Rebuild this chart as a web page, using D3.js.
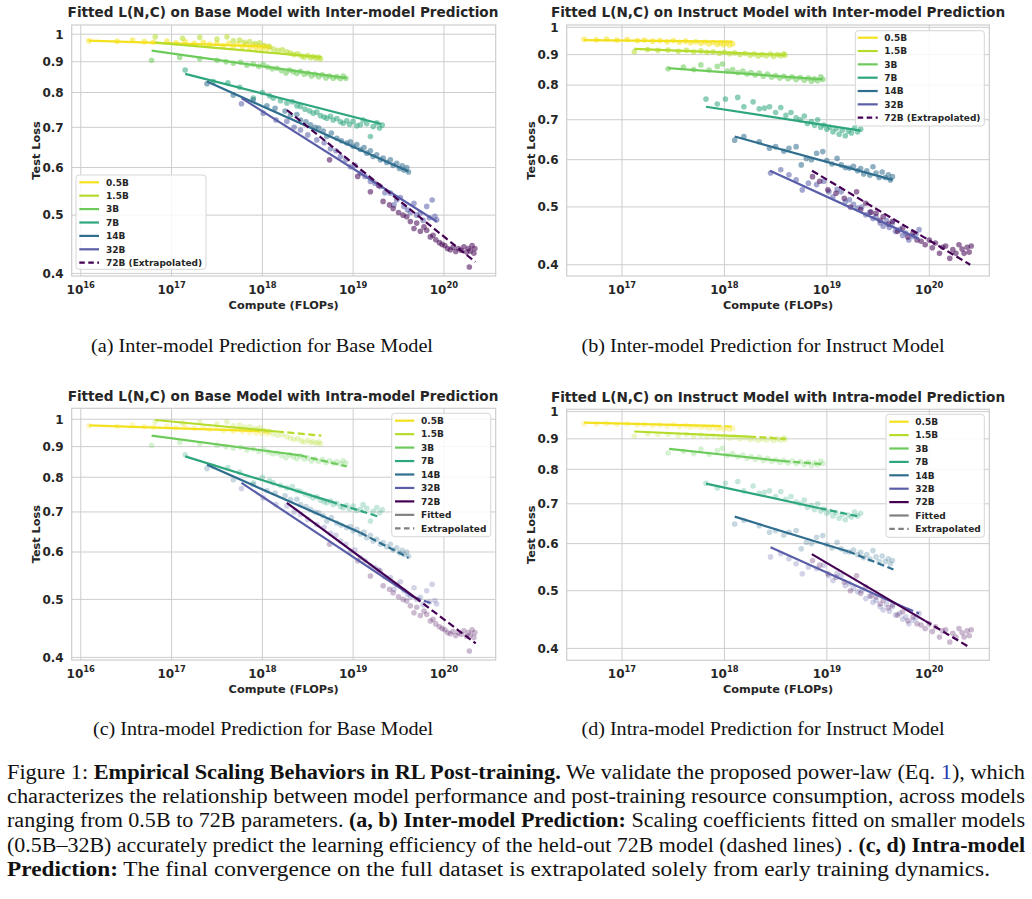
<!DOCTYPE html>
<html>
<head>
<meta charset="utf-8">
<script src="https://cdn.jsdelivr.net/npm/d3@7"></script>
<style>
  html, body { margin: 0; padding: 0; background: #fff; }
  svg { display: block; }
</style>
</head>
<body>
<svg id="fig" width="1032" height="899"></svg>
<script>
// model sizes and their viridis-like colours
const MODELS = ['0.5B', '1.5B', '3B', '7B', '14B', '32B', '72B'];
const COLORS = ['#f4e11e', '#b5dc2c', '#6dcb5b', '#2ea67c', '#2f6e8e', '#5a5ea8', '#440154'];

const Y_TICKS = [0.4, 0.5, 0.6, 0.7, 0.8, 0.9, 1];
const X_TICKS_BASE = [16, 17, 18, 19, 20];      // log10 FLOPs
const X_TICKS_INSTRUCT = [17, 18, 19, 20];

// observed test loss, [log10 compute, loss], base model (panels a, c)
const BASE_POINTS = [
  [[16.09,0.975],[16.4,0.973],[16.57,0.978],[16.7,0.972],[16.8,0.97],[16.95,0.974],[17.05,0.968],[17.15,0.972],[17.25,0.966],[17.35,0.97],[17.42,0.962],[17.5,0.967],[17.57,0.958],[17.63,0.966],[17.68,0.955],[17.73,0.964],[17.78,0.953],[17.82,0.962],[17.86,0.95],[17.9,0.96],[17.93,0.948],[17.96,0.958],[17.99,0.947],[18.02,0.956],[18.05,0.946],[18.08,0.952]],
  [[16.82,0.99],[17.12,0.985],[17.31,0.988],[17.5,0.982],[17.61,0.99],[17.68,0.975],[17.75,0.978],[17.8,0.97],[17.86,0.972],[17.92,0.965],[17.97,0.968],[18.02,0.958],[18.07,0.955],[18.12,0.945],[18.17,0.94],[18.22,0.942],[18.27,0.935],[18.31,0.93],[18.35,0.925],[18.39,0.928],[18.43,0.92],[18.46,0.916],[18.5,0.922],[18.53,0.914],[18.56,0.918],[18.59,0.912],[18.62,0.916],[18.64,0.91]],
  [[16.78,0.905],[17.09,0.915],[17.31,0.91],[17.5,0.905],[17.6,0.9],[17.68,0.895],[17.76,0.898],[17.83,0.888],[17.9,0.892],[17.96,0.884],[18.01,0.89],[18.06,0.882],[18.11,0.876],[18.16,0.878],[18.21,0.87],[18.26,0.862],[18.3,0.872],[18.34,0.866],[18.38,0.86],[18.42,0.868],[18.46,0.858],[18.5,0.862],[18.54,0.852],[18.58,0.858],[18.62,0.85],[18.66,0.856],[18.7,0.846],[18.74,0.852],[18.78,0.845],[18.82,0.85],[18.86,0.843],[18.89,0.852],[18.92,0.845]],
  [[17.15,0.872],[17.46,0.834],[17.62,0.83],[17.75,0.816],[17.9,0.783],[18.0,0.8],[18.08,0.79],[18.12,0.783],[18.2,0.775],[18.27,0.768],[18.33,0.772],[18.38,0.76],[18.42,0.758],[18.47,0.75],[18.52,0.745],[18.56,0.739],[18.6,0.742],[18.64,0.732],[18.68,0.728],[18.71,0.725],[18.75,0.73],[18.78,0.72],[18.82,0.724],[18.86,0.715],[18.89,0.711],[18.93,0.718],[18.96,0.708],[19.0,0.716],[19.04,0.704],[19.08,0.707],[19.11,0.72],[19.15,0.71],[19.19,0.676],[19.22,0.702],[19.26,0.712],[19.29,0.698],[19.32,0.706]],
  [[17.39,0.827],[17.68,0.792],[17.9,0.778],[18.05,0.76],[18.14,0.753],[18.25,0.745],[18.31,0.734],[18.38,0.735],[18.42,0.72],[18.48,0.715],[18.53,0.707],[18.58,0.7],[18.62,0.698],[18.67,0.69],[18.71,0.676],[18.76,0.685],[18.82,0.671],[18.87,0.665],[18.93,0.659],[18.97,0.662],[19.0,0.651],[19.04,0.655],[19.08,0.643],[19.12,0.648],[19.15,0.634],[19.19,0.64],[19.22,0.626],[19.26,0.63],[19.3,0.618],[19.33,0.622],[19.37,0.612],[19.41,0.618],[19.44,0.605],[19.48,0.61],[19.51,0.598],[19.54,0.604],[19.56,0.594],[19.59,0.6],[19.61,0.59]],
  [[17.77,0.766],[18.01,0.739],[18.15,0.72],[18.27,0.716],[18.35,0.7],[18.42,0.693],[18.5,0.68],[18.6,0.667],[18.68,0.66],[18.75,0.645],[18.81,0.64],[18.86,0.626],[18.92,0.618],[18.97,0.602],[19.02,0.605],[19.08,0.587],[19.13,0.58],[19.19,0.569],[19.24,0.565],[19.3,0.558],[19.35,0.545],[19.41,0.544],[19.45,0.52],[19.48,0.53],[19.52,0.535],[19.56,0.517],[19.6,0.51],[19.63,0.505],[19.67,0.523],[19.7,0.5],[19.74,0.504],[19.77,0.49],[19.81,0.517],[19.84,0.495],[19.87,0.53],[19.9,0.498],[19.92,0.491]],
  [[18.74,0.618],[19.05,0.58],[19.19,0.547],[19.28,0.56],[19.33,0.527],[19.4,0.52],[19.44,0.513],[19.5,0.505],[19.55,0.5],[19.59,0.497],[19.63,0.488],[19.67,0.475],[19.7,0.485],[19.74,0.47],[19.78,0.478],[19.81,0.472],[19.85,0.46],[19.88,0.463],[19.91,0.455],[19.95,0.45],[19.98,0.447],[20.01,0.445],[20.04,0.44],[20.07,0.438],[20.1,0.442],[20.13,0.435],[20.16,0.44],[20.19,0.437],[20.22,0.443],[20.25,0.434],[20.27,0.44],[20.29,0.436],[20.31,0.445],[20.33,0.432],[20.34,0.44],[20.28,0.41]]
];

// observed test loss, instruct model (panels b, d)
const INSTRUCT_POINTS = [
  [[16.63,0.955],[16.75,0.953],[16.85,0.956],[16.95,0.952],[17.05,0.954],[17.15,0.95],[17.22,0.952],[17.3,0.948],[17.37,0.95],[17.44,0.946],[17.5,0.95],[17.56,0.944],[17.62,0.948],[17.67,0.942],[17.72,0.946],[17.77,0.94],[17.81,0.944],[17.85,0.938],[17.89,0.943],[17.93,0.936],[17.96,0.941],[17.99,0.935],[18.02,0.94],[18.05,0.934],[18.08,0.938]],
  [[17.12,0.91],[17.25,0.918],[17.35,0.915],[17.45,0.916],[17.55,0.912],[17.63,0.915],[17.7,0.91],[17.77,0.913],[17.83,0.908],[17.89,0.91],[17.95,0.905],[18.0,0.908],[18.05,0.903],[18.1,0.906],[18.15,0.9],[18.2,0.904],[18.25,0.898],[18.29,0.902],[18.33,0.895],[18.37,0.9],[18.41,0.896],[18.45,0.902],[18.48,0.894],[18.52,0.9],[18.55,0.896],[18.58,0.903],[18.59,0.898]],
  [[17.45,0.852],[17.6,0.858],[17.7,0.85],[17.77,0.865],[17.85,0.848],[17.93,0.86],[17.98,0.868],[18.03,0.845],[18.08,0.85],[18.13,0.84],[18.18,0.845],[18.22,0.835],[18.26,0.84],[18.3,0.832],[18.34,0.838],[18.38,0.828],[18.42,0.835],[18.46,0.825],[18.5,0.83],[18.54,0.822],[18.58,0.828],[18.62,0.82],[18.66,0.826],[18.7,0.818],[18.74,0.824],[18.78,0.815],[18.82,0.822],[18.85,0.812],[18.88,0.82],[18.91,0.814],[18.94,0.826],[18.96,0.818]],
  [[17.82,0.758],[17.93,0.744],[18.01,0.758],[18.13,0.763],[18.19,0.736],[18.28,0.75],[18.34,0.73],[18.39,0.732],[18.44,0.736],[18.5,0.72],[18.55,0.734],[18.6,0.712],[18.65,0.72],[18.7,0.705],[18.74,0.7],[18.78,0.71],[18.81,0.69],[18.85,0.695],[18.88,0.685],[18.91,0.7],[18.94,0.68],[18.97,0.686],[19.0,0.675],[19.03,0.68],[19.06,0.668],[19.09,0.676],[19.12,0.662],[19.15,0.672],[19.18,0.658],[19.21,0.67],[19.24,0.665],[19.27,0.678],[19.3,0.668],[19.33,0.675]],
  [[18.1,0.647],[18.19,0.656],[18.34,0.643],[18.44,0.627],[18.5,0.631],[18.58,0.62],[18.63,0.627],[18.7,0.631],[18.75,0.588],[18.8,0.603],[18.85,0.6],[18.9,0.615],[18.96,0.619],[19.0,0.598],[19.05,0.59],[19.1,0.603],[19.14,0.588],[19.18,0.582],[19.22,0.581],[19.26,0.585],[19.3,0.575],[19.33,0.58],[19.36,0.568],[19.39,0.575],[19.42,0.565],[19.45,0.584],[19.48,0.57],[19.51,0.56],[19.54,0.572],[19.57,0.56],[19.6,0.566],[19.62,0.555],[19.64,0.562]],
  [[18.45,0.57],[18.55,0.577],[18.63,0.566],[18.7,0.555],[18.76,0.534],[18.82,0.548],[18.9,0.545],[18.97,0.552],[19.02,0.53],[19.06,0.52],[19.1,0.535],[19.14,0.53],[19.18,0.51],[19.22,0.514],[19.26,0.505],[19.3,0.498],[19.34,0.5],[19.38,0.485],[19.42,0.49],[19.45,0.478],[19.48,0.482],[19.52,0.47],[19.55,0.464],[19.58,0.475],[19.61,0.462],[19.64,0.47],[19.67,0.455],[19.71,0.458],[19.74,0.448],[19.77,0.452],[19.8,0.44],[19.84,0.446],[19.87,0.45],[19.9,0.458]],
  [[18.86,0.562],[18.93,0.552],[19.01,0.534],[19.09,0.527],[19.17,0.517],[19.23,0.5],[19.29,0.53],[19.33,0.495],[19.38,0.507],[19.43,0.49],[19.48,0.488],[19.52,0.475],[19.55,0.482],[19.6,0.468],[19.64,0.473],[19.69,0.455],[19.74,0.461],[19.79,0.445],[19.84,0.452],[19.88,0.44],[19.92,0.438],[19.96,0.432],[20.0,0.44],[20.03,0.427],[20.06,0.435],[20.1,0.418],[20.13,0.428],[20.16,0.43],[20.2,0.41],[20.23,0.424],[20.26,0.418],[20.29,0.432],[20.32,0.425],[20.34,0.418],[20.37,0.428],[20.39,0.42],[20.41,0.43]]
];

// inter-model fits: [logC start, loss start, logC end, loss end]; last row is the extrapolated 72B
const INTER_BASE_FITS = [
  [16.09,0.976,18.08,0.954], [16.82,0.968,18.65,0.916], [16.78,0.939,18.93,0.845],
  [17.15,0.859,19.31,0.709], [17.39,0.834,19.61,0.591], [17.77,0.783,19.92,0.488],
  [18.27,0.748,20.345,0.418]
];
const INTER_INSTRUCT_FITS = [
  [16.63,0.952,18.08,0.946], [17.12,0.92,18.59,0.899], [17.45,0.854,18.96,0.818],
  [17.82,0.736,19.33,0.671], [18.10,0.656,19.64,0.555], [18.445,0.575,19.90,0.442],
  [18.855,0.575,20.40,0.40]
];

// intra-model fits: [logC start, loss start, logC split, loss split, logC end, loss end]
const INTRA_BASE_FITS = [
  [16.09,0.977,17.9,0.956,18.08,0.954], [16.82,0.997,18.16,0.954,18.65,0.939],
  [16.78,0.939,18.42,0.87,18.93,0.834], [17.15,0.867,18.75,0.729,19.3,0.686],
  [17.39,0.839,19.08,0.646,19.61,0.587], [17.77,0.783,19.67,0.504,19.89,0.491],
  [18.27,0.725,19.68,0.504,20.35,0.422]
];
const INTRA_INSTRUCT_FITS = [
  [16.63,0.958,17.9,0.946,18.08,0.944], [17.12,0.926,18.24,0.908,18.595,0.9],
  [17.46,0.866,18.57,0.826,18.96,0.816], [17.82,0.757,18.93,0.688,19.32,0.666],
  [18.10,0.666,19.21,0.582,19.65,0.543], [18.45,0.5915,19.78,0.467,19.9,0.458],
  [18.853,0.576,19.96,0.445,20.39,0.402]
];

const TEXT = '#262626';
const GRID = '#cdcdcd';
const FONT = 'DejaVu Sans';

const panels = [
  { title: 'Fitted L(N,C) on Base Model with Inter-model Prediction', titleX: 283,
    box: [71.7, 25, 495.7, 276], xd: [15.9, 20.57], yd: [0.396, 1.036], xt: X_TICKS_BASE,
    pts: BASE_POINTS, fits: INTER_BASE_FITS, mode: 'inter', alpha: 0.55,
    leg: { box: [76, 175, 206, 269.3], y0: 182.3, dy: 13.4, h0: 79.3, h1: 99, tx: 106 },
    cap: '(a) Inter-model Prediction for Base Model', capX: 262, capW: 342, capY: 352 },
  { title: 'Fitted L(N,C) on Instruct Model with Inter-model Prediction', titleX: 778,
    box: [566.7, 25, 989.3, 276], xd: [16.46, 20.586], yd: [0.383, 1.009], xt: X_TICKS_INSTRUCT,
    pts: INSTRUCT_POINTS, fits: INTER_INSTRUCT_FITS, mode: 'inter', alpha: 0.55,
    leg: { box: [855.3, 30.7, 984.3, 126], y0: 37.7, dy: 13.33, h0: 857.7, h1: 877.7, tx: 884.3 },
    cap: '(b) Inter-model Prediction for Instruct Model', capX: 763, capW: 363, capY: 352 },
  { title: 'Fitted L(N,C) on Base Model with Intra-model Prediction', titleX: 283,
    box: [71.7, 408.3, 495.7, 660], xd: [15.9, 20.57], yd: [0.396, 1.043], xt: X_TICKS_BASE,
    pts: BASE_POINTS, fits: INTRA_BASE_FITS, mode: 'intra', alpha: 0.27,
    leg: { box: [391.7, 413.3, 490.7, 536.7], y0: 420.7, dy: 13.45, h0: 395, h1: 414.3, tx: 421 },
    cap: '(c) Intra-model Prediction for Base Model', capX: 263, capW: 340, capY: 735 },
  { title: 'Fitted L(N,C) on Instruct Model with Intra-model Prediction', titleX: 778,
    box: [566.7, 409.3, 989.3, 660.3], xd: [16.46, 20.586], yd: [0.382, 1.009], xt: X_TICKS_INSTRUCT,
    pts: INSTRUCT_POINTS, fits: INTRA_INSTRUCT_FITS, mode: 'intra', alpha: 0.27,
    leg: { box: [886, 414.3, 984.3, 537.3], y0: 421.7, dy: 13.4, h0: 889.3, h1: 908.7, tx: 915.3 },
    cap: '(d) Intra-model Prediction for Instruct Model', capX: 763, capW: 363, capY: 735 }
];

const svg = d3.select('#fig');
svg.append('rect').attr('width', 1032).attr('height', 899).attr('fill', '#fff');

const line = (x, y) => d3.line().x((d) => x(10 ** d[0])).y((d) => y(d[1]));

panels.forEach((p, pi) => {
  const [L, T, R, B] = p.box;
  const x = d3.scaleLog().domain([10 ** p.xd[0], 10 ** p.xd[1]]).range([L, R]);
  const y = d3.scaleLog().domain(p.yd).range([B, T]);
  const g = svg.append('g');

  g.append('defs').append('clipPath').attr('id', `clip${pi}`)
    .append('rect').attr('x', L).attr('y', T).attr('width', R - L).attr('height', B - T);

  // grid
  g.append('g').selectAll('line').data(p.xt).join('line')
    .attr('x1', (d) => x(10 ** d)).attr('x2', (d) => x(10 ** d))
    .attr('y1', T).attr('y2', B).attr('stroke', GRID).attr('stroke-width', 1);
  g.append('g').selectAll('line').data(Y_TICKS).join('line')
    .attr('x1', L).attr('x2', R).attr('y1', (d) => y(d)).attr('y2', (d) => y(d))
    .attr('stroke', GRID).attr('stroke-width', 1);
  g.append('rect').attr('x', L).attr('y', T).attr('width', R - L).attr('height', B - T)
    .attr('fill', 'none').attr('stroke', GRID).attr('stroke-width', 1.2);

  const plot = g.append('g').attr('clip-path', `url(#clip${pi})`);
  MODELS.forEach((m, i) => {
    plot.append('g').selectAll('circle').data(p.pts[i]).join('circle')
      .attr('cx', (d) => x(10 ** d[0])).attr('cy', (d) => y(d[1]))
      .attr('r', 2.8).attr('fill', COLORS[i]).attr('fill-opacity', p.alpha);
  });
  MODELS.forEach((m, i) => {
    const f = p.fits[i];
    if (p.mode === 'inter') {
      const seg = [[f[0], f[1]], [f[2], f[3]]];
      plot.append('path').attr('d', line(x, y)(seg)).attr('fill', 'none')
        .attr('stroke', COLORS[i]).attr('stroke-width', 2.2)
        .attr('stroke-dasharray', i === 6 ? '7,3.5' : null);
    } else {
      plot.append('path').attr('d', line(x, y)([[f[0], f[1]], [f[2], f[3]]]))
        .attr('fill', 'none').attr('stroke', COLORS[i]).attr('stroke-width', 2.2);
      plot.append('path').attr('d', line(x, y)([[f[2], f[3]], [f[4], f[5]]]))
        .attr('fill', 'none').attr('stroke', COLORS[i]).attr('stroke-width', 2.2)
        .attr('stroke-dasharray', '7,3.5');
    }
  });

  // tick labels
  const xl = g.append('g').selectAll('text').data(p.xt).join('text')
    .attr('x', (d) => x(10 ** d)).attr('y', B + 17.5).attr('text-anchor', 'middle')
    .attr('font-family', FONT).attr('font-weight', 'bold').attr('font-size', 12).attr('fill', TEXT);
  xl.append('tspan').text('10');
  xl.append('tspan').attr('dy', -5.5).attr('font-size', 8.4).text((d) => d);

  g.append('g').selectAll('text').data(Y_TICKS).join('text')
    .attr('x', L - 8).attr('y', (d) => y(d)).attr('dy', '0.36em').attr('text-anchor', 'end')
    .attr('font-family', FONT).attr('font-weight', 'bold').attr('font-size', 12).attr('fill', TEXT)
    .text((d) => d3.format('~g')(d));

  // title and axis labels
  g.append('text').attr('x', p.titleX).attr('y', T - 7.7).attr('text-anchor', 'middle')
    .attr('font-family', FONT).attr('font-weight', 'bold').attr('font-size', 13.6).attr('fill', TEXT)
    .text(p.title);
  g.append('text').attr('x', (L + R) / 2).attr('y', B + 33).attr('text-anchor', 'middle')
    .attr('font-family', FONT).attr('font-weight', 'bold').attr('font-size', 11.3).attr('fill', TEXT)
    .text('Compute (FLOPs)');
  g.append('text').attr('transform', `translate(${L - 36},${(T + B) / 2}) rotate(-90)`)
    .attr('text-anchor', 'middle').attr('dy', '0.36em')
    .attr('font-family', FONT).attr('font-weight', 'bold').attr('font-size', 11.3).attr('fill', TEXT)
    .text('Test Loss');

  // legend
  const lg = p.leg;
  g.append('rect').attr('x', lg.box[0]).attr('y', lg.box[1])
    .attr('width', lg.box[2] - lg.box[0]).attr('height', lg.box[3] - lg.box[1])
    .attr('rx', 3).attr('fill', '#fff').attr('fill-opacity', 0.85)
    .attr('stroke', '#d6d6d6').attr('stroke-width', 1);
  const items = MODELS.map((m, i) => ({
    label: p.mode === 'inter' && i === 6 ? `${m} (Extrapolated)` : m,
    color: COLORS[i],
    dash: p.mode === 'inter' && i === 6
  }));
  if (p.mode === 'intra') {
    items.push({ label: 'Fitted', color: '#808080', dash: false });
    items.push({ label: 'Extrapolated', color: '#808080', dash: true });
  }
  const row = g.append('g').selectAll('g').data(items).join('g')
    .attr('transform', (d, i) => `translate(0,${lg.y0 + i * lg.dy})`);
  row.append('line').attr('x1', lg.h0).attr('x2', lg.h1)
    .attr('stroke', (d) => d.color).attr('stroke-width', 2.2)
    .attr('stroke-dasharray', (d) => (d.dash ? '5.5,3.5' : null));
  row.append('text').attr('x', lg.tx).attr('dy', '0.36em')
    .attr('font-family', FONT).attr('font-weight', 'bold').attr('font-size', 9).attr('fill', TEXT)
    .text((d) => d.label);

  // sub-figure caption
  svg.append('text').attr('x', p.capX).attr('y', p.capY).attr('text-anchor', 'middle')
    .attr('font-family', 'Liberation Serif').attr('font-size', 19).attr('fill', '#111')
    .attr('textLength', p.capW).attr('lengthAdjust', 'spacingAndGlyphs')
    .text(p.cap);
});

// figure caption, one text per line with bold runs
const CAPTION = [
  [['Figure 1: ', 0], ['Empirical Scaling Behaviors in RL Post-training.', 1], [' We validate the proposed power-law (Eq. ', 0], ['1', 2], ['), which', 0]],
  [['characterizes the relationship between model performance and post-training resource consumption, across models', 0]],
  [['ranging from 0.5B to 72B parameters. ', 0], ['(a, b) Inter-model Prediction:', 1], [' Scaling coefficients fitted on smaller models', 0]],
  [['(0.5B–32B) accurately predict the learning efficiency of the held-out 72B model (dashed lines) . ', 0], ['(c, d) Intra-model', 1]],
  [['Prediction:', 1], [' The final convergence on the full dataset is extrapolated solely from early training dynamics.', 0]]
];
const capWidths = [1018, 1018, 1018, 1018, 983];

CAPTION.forEach((runs, li) => {
  const t = svg.append('text').attr('x', 7).attr('y', 779 + li * 24.2)
    .attr('font-family', 'Liberation Serif').attr('font-size', 20).attr('fill', '#111')
    .attr('textLength', capWidths[li]).attr('lengthAdjust', 'spacingAndGlyphs')
    .attr('xml:space', 'preserve').style('white-space', 'pre');
  runs.forEach(([s, k]) => {
    t.append('tspan').attr('font-weight', k === 1 ? 'bold' : 'normal')
      .attr('fill', k === 2 ? '#2a3fb0' : '#111').text(s);
  });
});
</script>
</body>
</html>
